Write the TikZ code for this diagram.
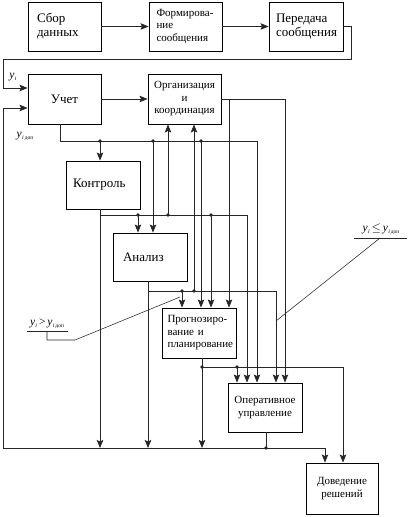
\documentclass[tikz,border=0pt]{standalone}
\usepackage{fontspec}
\setmainfont{Liberation Serif}
\usetikzlibrary{arrows.meta}
\newcommand{\yvar}{\textit{y}\kern0.3pt\raisebox{-0.35ex}{\fontsize{6}{6}\selectfont\textit{i}}}
\newcommand{\ydop}{\textit{y}\kern0.3pt\raisebox{-0.35ex}{\fontsize{6}{6}\selectfont\textit{i}\,\fontsize{5.5}{6}\selectfont доп}}
\begin{document}
\begin{tikzpicture}[x=1pt,y=-1pt,
  box/.style={draw, line width=0.9pt, inner sep=0pt, font=\fontsize{13}{14}\selectfont},
  sbox/.style={box, font=\fontsize{11}{12.5}\selectfont},
  conn/.style={line width=0.75pt, draw=black!85},
  arr/.style={conn, -{Stealth[length=8pt,width=6.5pt,inset=1.5pt]}},
  lead/.style={line width=0.55pt, draw=black!85},
  dot/.style={circle, fill=black!85, inner sep=0pt, minimum size=3.6pt},
  lbl/.style={font=\fontsize{11.5}{12}\selectfont, inner sep=0pt}]
\useasboundingbox (0,0) rectangle (409,517);

% boxes
\node[box, minimum width=73pt, minimum height=49pt, text width=55pt, align=left] (sbor) at (64.5,26.5) {Сбор\\данных};
\node[sbox, minimum width=73pt, minimum height=49pt, text width=58pt, align=left] (form) at (185.5,26.5) {Формирова-\\ние\\сообщения};
\node[box, minimum width=74pt, minimum height=49pt, text width=60pt, align=left] (pered) at (306,26.5) {Передача\\сообщения};
\node[box, minimum width=73pt, minimum height=50pt] (uchet) at (64.5,99) {Учет};
\node[sbox, minimum width=73pt, minimum height=50pt, align=center] (org) at (184.5,99) {Организация\\и\\координация};
\node[box, minimum width=74pt, minimum height=48pt, text width=60pt, align=left] (kontr) at (103,185) {Контроль};
\node[box, minimum width=74pt, minimum height=48pt, text width=54pt, align=left] (anal) at (150,257) {Анализ};
\node[sbox, minimum width=74pt, minimum height=50pt, text width=63pt, align=left] (prog) at (199,333) {Прогнозиро-\\вание и\\планирование};
\node[sbox, minimum width=74pt, minimum height=49pt, align=center] (oper) at (265,407.5) {Оперативное\\управление};
\node[sbox, minimum width=72pt, minimum height=51pt, align=center] (dov) at (342,488.5) {Доведение\\решений};

% junction coordinates
\coordinate (lpR) at (351,59); \coordinate (lpL) at (3,59);
\coordinate (uL) at (60,141); \coordinate (uR) at (257,141);
\coordinate (u1) at (100,141); \coordinate (u2) at (153,141); \coordinate (u3) at (201,141);
\coordinate (kB) at (100,215); \coordinate (kR) at (247,215);
\coordinate (k1) at (138,215); \coordinate (k2) at (168,215); \coordinate (k3) at (211,215);
\coordinate (aB) at (148,291); \coordinate (aR) at (276,291);
\coordinate (a1) at (182,291); \coordinate (a2) at (194,291);
\coordinate (pB) at (202,367); \coordinate (pR) at (343,367); \coordinate (p1) at (237,367);
\coordinate (oR) at (285,99); \coordinate (o1) at (229,99);
\coordinate (bL) at (3,448); \coordinate (bR) at (325,448); \coordinate (bO) at (266,448);

% top row
\draw[arr] (sbor) -- (form);
\draw[arr] (form) -- (pered);
\draw[arr] (pered.east) -| (lpR) -- (lpL) |- ([yshift=11pt]uchet.west);
\draw[arr] (uchet) -- (org);

% Учет bus
\draw[conn] (uchet.south -| uL) -- (uL) -- (uR);
\draw[arr] (uR) -- (uR |- oper.north);
\draw[arr] (u1) -- (u1 |- kontr.north);
\draw[arr] (u2) -- (u2 |- anal.north);
\draw[arr] (u3) -- (u3 |- prog.north);

% Контроль bus
\draw[arr] (kontr.south -| kB) -- (kB |- bL);
\draw[conn] (kB) -- (kR);
\draw[arr] (kR) -- (kR |- oper.north);
\draw[arr] (k1) -- (k1 |- anal.north);
\draw[arr] (k2) -- (k2 |- org.south);
\draw[arr] (k3) -- (k3 |- prog.north);

% Анализ bus
\draw[arr] (anal.south -| aB) -- (aB |- bL);
\draw[conn] (aB) -- (aR);
\draw[arr] (aR) -- (aR |- oper.north);
\draw[arr] (a1) -- (a1 |- prog.north);
\draw[arr] (a2) -- (a2 |- org.south);

% Прогнозирование bus
\draw[arr] (prog.south -| pB) -- (pB |- bL);
\draw[conn] (pB) -- (pR);
\draw[arr] (pR) -- (pR |- dov.north);
\draw[arr] (p1) -- (p1 |- oper.north);

% Организация output
\draw[conn] (org.east) -- (oR);
\draw[arr] (oR) -- (oR |- oper.north);
\draw[arr] (o1) -- (o1 |- prog.north);

% bottom bus
\draw[conn] (oper.south -| bO) -- (bO);
\draw[conn] (bL) -- (bR);
\draw[arr] (bR) -- (bR |- dov.north);
\draw[arr] (bL) |- ([yshift=-9pt]uchet.west);

% dots
\foreach \d in {u1,u2,u3,k1,k2,k3,a1,a2,pB,p1,bO}
  \node[dot] (dot-\d) at (\d) {};

% labels
\node[lbl] (ly1) at (13,77) {\yvar};
\node[lbl] (ly2) at (25,136) {\ydop};
\node[lbl] (lgt) at (47,324) {\yvar\,>\,\ydop};
\node[lbl] (lle) at (381,229) {\yvar\,$\leq$\,\ydop};

\coordinate (g1) at (27,331); \coordinate (g2) at (68,331);
\coordinate (g3) at (47,331); \coordinate (g4) at (75,340); \coordinate (g5) at (180,297);
\draw[lead] (g1) -- (g2);
\draw[lead] (g3) |- (g4) -- (g5);
\coordinate (l1) at (354,238); \coordinate (l2) at (407,238);
\coordinate (l3) at (380,238); \coordinate (l4) at (276,321);
\draw[lead] (l1) -- (l2);
\draw[lead] (l3) -- (l4);
\end{tikzpicture}
\end{document}
